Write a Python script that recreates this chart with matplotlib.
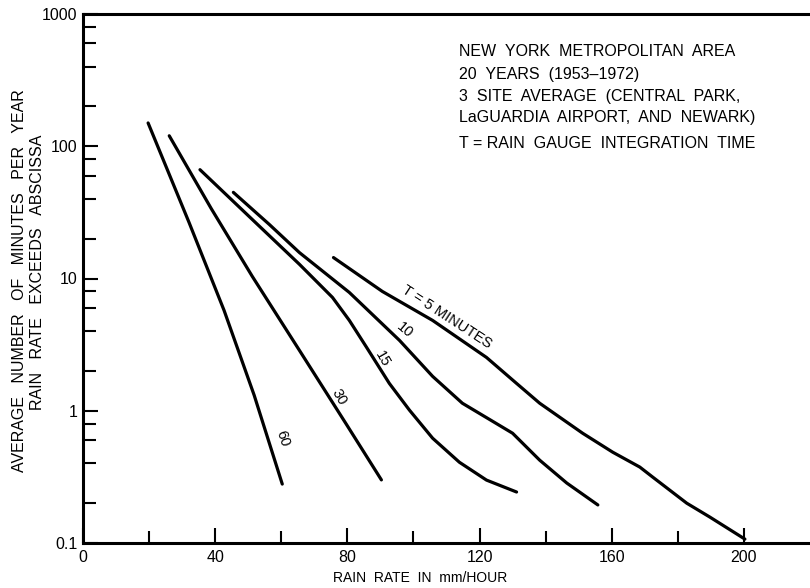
import matplotlib
matplotlib.use("Agg")
import matplotlib.pyplot as plt
from matplotlib.ticker import FixedLocator, LogLocator, NullFormatter

plt.rcParams['font.family'] = ['Liberation Sans', 'DejaVu Sans']

# curves: rain rate (mm/h) vs minutes per year exceeded
rate_60 = [19.7, 32.1, 42.7, 51.8, 60.3]
mins_60 = [150, 26.5, 5.73, 1.31, 0.279]

rate_30 = [26.1, 38.8, 51.2, 65.5, 79.7, 90.3]
mins_30 = [120, 33.8, 10.4, 2.86, 0.79, 0.30]

rate_15 = [35.4, 50.3, 65.5, 75.5, 80.6, 85.8, 92.7, 98.8, 105.8, 113.9, 122.1, 131.2]
mins_15 = [66.5, 29.4, 12.8, 7.19, 4.82, 3.02, 1.61, 1.01, 0.62, 0.408, 0.299, 0.243]

rate_10 = [45.5, 56.4, 65.5, 80.6, 95.8, 105.8, 114.8, 123.9, 130.0, 138.2, 146.4, 155.8]
mins_10 = [44.8, 25.6, 15.7, 7.84, 3.40, 1.82, 1.14, 0.834, 0.676, 0.423, 0.284, 0.194]

rate_5 = [75.8, 90.6, 105.8, 122.1, 131.2, 138.2, 151.2, 160.3, 168.5, 172.4, 182.7, 189.7, 200.3]
mins_5 = [14.4, 7.98, 4.82, 2.53, 1.61, 1.14, 0.676, 0.486, 0.375, 0.315, 0.200, 0.157, 0.107]

x_ticks = [0, 40, 80, 120, 160, 200]
x_minor = [20, 60, 100, 140, 180]
y_ticks = [0.1, 1, 10, 100, 1000]
y_labels = ['0.1', '1', '10', '100', '1000']

info_lines = ["NEW  YORK  METROPOLITAN  AREA",
              "20  YEARS  (1953\u20131972)",
              "3  SITE  AVERAGE  (CENTRAL  PARK,",
              "LaGUARDIA  AIRPORT,  AND  NEWARK)",
              "T = RAIN  GAUGE  INTEGRATION  TIME"]

fig = plt.figure(figsize=(8.1, 5.88), dpi=100)
ax = fig.add_axes([83/810, 1 - 543/588, 1 - 83/810, (543 - 14)/588])

lw = 2.3
for rr, mm in [(rate_60, mins_60), (rate_30, mins_30), (rate_15, mins_15),
               (rate_10, mins_10), (rate_5, mins_5)]:
    ax.plot(rr, mm, color='black', lw=lw, solid_capstyle='round', solid_joinstyle='round')

ax.set_yscale('log')
ax.set_xlim(0, 220)
ax.set_ylim(0.1, 1000)

ax.set_xticks(x_ticks)
ax.set_xticklabels([str(v) for v in x_ticks])
ax.xaxis.set_minor_locator(FixedLocator(x_minor))
ax.set_yticks(y_ticks)
ax.set_yticklabels(y_labels)
ax.yaxis.set_minor_locator(LogLocator(base=10, subs=(2, 4, 6, 8)))
ax.yaxis.set_minor_formatter(NullFormatter())

ax.tick_params(which='major', direction='in', length=11, width=1.5, labelsize=11.5, pad=5)
ax.tick_params(which='minor', direction='in', length=9, width=1.5)
ax.tick_params(axis='y', which='major', pad=4)

for s in ['left', 'bottom', 'top']:
    ax.spines[s].set_linewidth(2.2)
ax.spines['right'].set_visible(False)

fig.text(420/810, 1 - 578/588, "RAIN  RATE  IN  mm/HOUR", ha='center', va='center', fontsize=10)

fig.text(20/810, 1 - 281/588, "AVERAGE   NUMBER   OF   MINUTES   PER   YEAR",
         rotation=90, ha='center', va='center', fontsize=11.5)
fig.text(38/810, 1 - 272/588, "RAIN   RATE   EXCEEDS   ABSCISSA",
         rotation=90, ha='center', va='center', fontsize=11.5)

# info block
ys = [52, 74, 97, 117, 143]
for line, yp in zip(info_lines, ys):
    fig.text(459/810, 1 - yp/588, line, ha='left', va='center', fontsize=11.5)

# curve labels
ax.text(110, 5.08, "T = 5 MINUTES", rotation=-33, ha='center', va='center', fontsize=10.5)
ax.text(97.3, 4.06, "10", rotation=-40, ha='center', va='center', fontsize=10.5)
ax.text(90.5, 2.45, "15", rotation=-60, ha='center', va='center', fontsize=10.5)
ax.text(77.6, 1.26, "30", rotation=-60, ha='center', va='center', fontsize=10.5)
ax.text(60.3, 0.62, "60", rotation=-72, ha='center', va='center', fontsize=10.5)

fig.savefig("out.png", dpi=100)
